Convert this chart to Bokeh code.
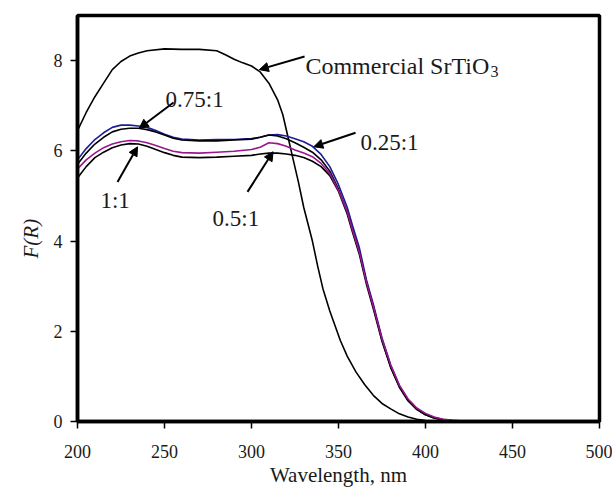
from bokeh.plotting import figure
from bokeh.models import Range1d, Label, Arrow, NormalHead, FixedTicker, Title
from bokeh.embed import file_html
from bokeh.resources import INLINE

# ---------------- data ----------------
wl_commercial = [200, 205, 210, 215, 220, 225, 230, 235, 240, 250, 260, 270, 280, 285, 290, 295,
                 300, 305, 310, 315, 318, 321, 324, 327, 330, 333, 335, 338, 341, 345, 351, 355,
                 360, 365, 370, 375, 380, 385, 390, 395, 400, 405, 500]
fr_commercial = [6.45, 6.85, 7.2, 7.5, 7.8, 7.98, 8.1, 8.17, 8.22, 8.26, 8.25, 8.25, 8.22, 8.13, 8.03, 7.95,
                 7.88, 7.75, 7.5, 7.13, 6.8, 6.3, 5.8, 5.3, 4.75, 4.3, 4.0, 3.45, 2.95, 2.45, 1.8, 1.45,
                 1.1, 0.82, 0.58, 0.4, 0.28, 0.17, 0.1, 0.05, 0.02, 0.0, 0.0]

wl_sample = [200, 205, 210, 215, 220, 225, 230, 235, 240, 245, 250, 255, 260, 270, 280, 290,
             300, 305, 310, 315, 320, 325, 330, 335, 340, 345, 350, 355, 358, 362, 366, 370,
             375, 380, 385, 390, 395, 400, 405, 410, 415, 425, 500]
fr_025 = [5.8, 6.05, 6.25, 6.4, 6.52, 6.57, 6.57, 6.55, 6.52, 6.45, 6.37, 6.3, 6.26, 6.24, 6.25, 6.25,
          6.27, 6.3, 6.35, 6.36, 6.33, 6.27, 6.2, 6.1, 5.92, 5.65, 5.25, 4.75, 4.35, 3.85, 3.15, 2.6,
          1.85, 1.25, 0.8, 0.48, 0.28, 0.16, 0.09, 0.05, 0.02, 0.0, 0.0]
fr_075 = [5.7, 5.95, 6.15, 6.3, 6.42, 6.48, 6.5, 6.5, 6.47, 6.42, 6.35, 6.28, 6.24, 6.22, 6.22, 6.24,
          6.26, 6.3, 6.35, 6.33, 6.27, 6.18, 6.08, 5.97, 5.8, 5.55, 5.15, 4.65, 4.25, 3.75, 3.1, 2.55,
          1.8, 1.2, 0.77, 0.46, 0.27, 0.15, 0.08, 0.04, 0.02, 0.0, 0.0]
fr_05 = [5.6, 5.8, 5.95, 6.07, 6.15, 6.2, 6.23, 6.22, 6.18, 6.12, 6.05, 5.99, 5.96, 5.95, 5.97, 5.99,
         6.03, 6.08, 6.18, 6.16, 6.1, 6.02, 5.95, 5.87, 5.72, 5.5, 5.12, 4.65, 4.25, 3.75, 3.1, 2.55,
         1.83, 1.25, 0.8, 0.5, 0.3, 0.18, 0.1, 0.05, 0.03, 0.0, 0.0]
fr_1 = [5.4, 5.65, 5.85, 5.97, 6.07, 6.13, 6.16, 6.15, 6.1, 6.03, 5.96, 5.9, 5.86, 5.85, 5.86, 5.88,
        5.9, 5.93, 5.95, 5.95, 5.93, 5.9, 5.85, 5.77, 5.65, 5.45, 5.1, 4.6, 4.2, 3.7, 3.05, 2.5,
        1.78, 1.2, 0.76, 0.46, 0.27, 0.15, 0.08, 0.04, 0.02, 0.0, 0.0]

x_ticks = [200, 250, 300, 350, 400, 450, 500]
y_ticks = [0, 2, 4, 6, 8]

FONT = "Liberation Serif"

# ---------------- figure ----------------
p = figure(width=612, height=489, output_backend="svg", toolbar_location=None,
           x_range=Range1d(200, 500), y_range=Range1d(0, 9),
           min_border_left=77, min_border_right=13, min_border_top=15, min_border_bottom=68,
           background_fill_color="white", border_fill_color="white")
p.grid.visible = False
p.outline_line_color = "black"
p.outline_line_width = 3.5
p.outline_line_alpha = 1.0

for ax in (p.xaxis[0], p.yaxis[0]):
    ax.axis_line_width = 3.5
    ax.axis_line_color = "black"
    ax.major_tick_line_width = 1.5
    ax.major_tick_line_color = "black"
    ax.major_tick_out = 7
    ax.major_tick_in = 0
    ax.minor_tick_line_color = None
    ax.major_label_text_font = FONT
    ax.major_label_text_font_size = "18px"
    ax.major_label_text_color = "#1a1a1a"

p.xaxis.ticker = FixedTicker(ticks=x_ticks)
p.yaxis.ticker = FixedTicker(ticks=y_ticks)
p.xaxis.major_label_standoff = 16
p.yaxis.major_label_standoff = 8
p.xaxis.axis_label = "Wavelength, nm"
p.xaxis.axis_label_text_font = FONT
p.xaxis.axis_label_text_font_size = "21px"
p.xaxis.axis_label_text_font_style = "normal"
p.xaxis.axis_label_text_color = "#1a1a1a"
p.xaxis.axis_label_standoff = 2

# y axis title, placed in the left panel (shifted a little below the centre as in the original)
p.add_layout(Title(text="F(R)", text_font=FONT, text_font_size="21px", text_font_style="italic",
                   text_color="#1a1a1a", align="left", offset=163, standoff=15), "left")

# ---------------- curves ----------------
p.line(wl_commercial, fr_commercial, line_color="black", line_width=1.6)
p.line(wl_sample, fr_025, line_color="#1c1c9c", line_width=1.6)
p.line(wl_sample, fr_075, line_color="black", line_width=1.6)
p.line(wl_sample, fr_1, line_color="black", line_width=1.6)
p.line(wl_sample, fr_05, line_color="#9a1690", line_width=1.6)

# ---------------- annotations ----------------
def note(x, y, text, size="23px", x_offset=0, y_offset=0):
    p.add_layout(Label(x=x, y=y, text=text, text_font=FONT, text_font_size=size,
                       x_offset=x_offset, y_offset=y_offset,
                       text_baseline="alphabetic", text_align="left", text_color="#1a1a1a"))

def arrow(x0, y0, x1, y1):
    p.add_layout(Arrow(end=NormalHead(size=9, fill_color="black", line_color="black", line_width=1),
                       x_start=x0, y_start=y0, x_end=x1, y_end=y1,
                       line_color="black", line_width=2))

note(331.0, 7.87, "Commercial SrTiO", size="24px")
note(331.0, 7.87, "3", size="16px", x_offset=185, y_offset=-5)
arrow(330.5, 8.09, 304.5, 7.8)

note(362.6, 6.18, "0.25:1")
arrow(359.8, 6.40, 335.8, 6.09)

note(250.6, 7.13, "0.75:1")
arrow(255.2, 7.07, 235.5, 6.50)

note(213.2, 4.91, "1:1")
arrow(223.0, 5.31, 234.5, 6.09)

note(277.6, 4.51, "0.5:1")
arrow(297.7, 5.09, 312.4, 5.98)

open("out.html", "w").write(file_html(p, INLINE))
